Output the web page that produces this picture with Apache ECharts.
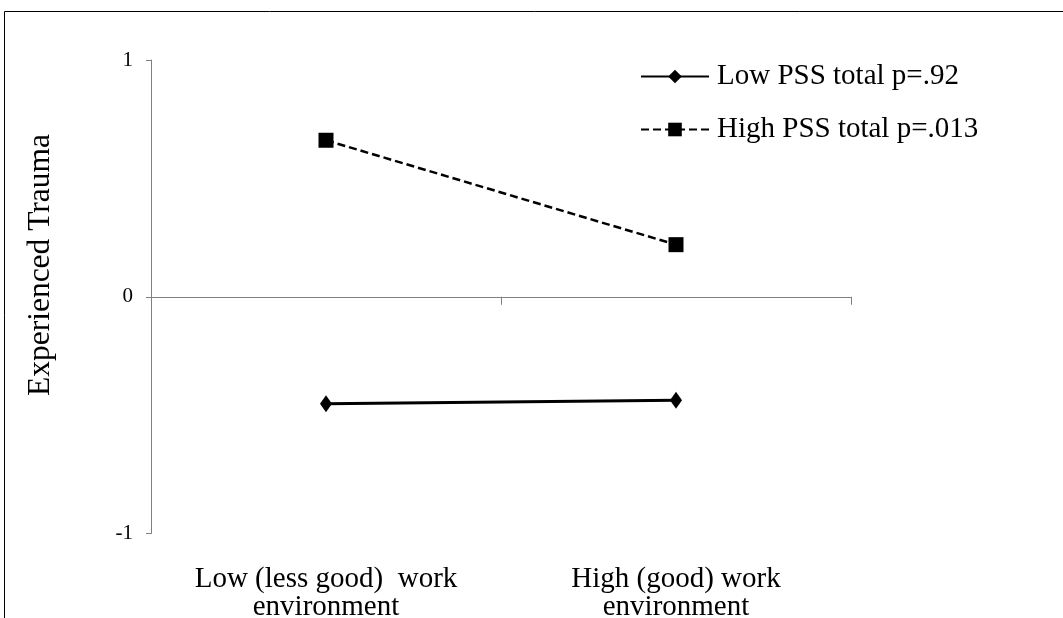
<!DOCTYPE html>
<html>
<head>
<meta charset="utf-8">
<script src="https://cdn.jsdelivr.net/npm/echarts@6/dist/echarts.min.js"></script>
<style>
html,body{margin:0;padding:0;background:#fff;}
#chart{width:1063px;height:618px;}
</style>
</head>
<body>
<div id="chart"></div>
<script>
var categories = ['Low (less good)  work\nenvironment', 'High (good) work\nenvironment'];
var seriesNames = ['Low PSS total p=.92', 'High PSS total p=.013'];
var lowPSS = [-0.452, -0.437];
var highPSS = [0.661, 0.22];
var yTicks = [-1, 0, 1];
var yTitle = 'Experienced Trauma';

var FONT = '"Liberation Serif", "Times New Roman", serif';
var chart = echarts.init(document.getElementById('chart'));
chart.setOption({
  animation: false,
  backgroundColor: '#fff',
  textStyle: { fontFamily: FONT, color: '#000' },
  grid: { left: 151, right: 212, top: 60, bottom: 84.5, containLabel: false, outerBoundsMode: 'none' },
  legend: {
    orient: 'vertical',
    left: 635,
    top: 56,
    itemWidth: 68,
    itemHeight: 17,
    itemGap: 22,
    textStyle: { fontFamily: FONT, fontSize: 29, color: '#000', lineHeight: 31, padding: [0,0,0,3] },
    data: seriesNames
  },
  xAxis: [
    {
      type: 'category',
      data: categories,
      position: 'bottom',
      axisLine: { show: false, onZero: false },
      axisTick: { show: false },
      axisLabel: { fontFamily: FONT, fontSize: 29, color: '#000', margin: 32, lineHeight: 28 }
    },
    {
      type: 'category',
      data: categories,
      position: 'bottom',
      axisLine: { show: true, onZero: true, lineStyle: { color: '#808080', width: 1 } },
      axisTick: { show: true, length: 8, lineStyle: { color: '#808080', width: 1 } },
      axisLabel: { show: false }
    }
  ],
  yAxis: {
    type: 'value',
    min: yTicks[0],
    max: yTicks[yTicks.length - 1],
    interval: 1,
    splitLine: { show: false },
    axisLine: { show: true, lineStyle: { color: '#808080', width: 1 } },
    axisTick: { show: true, length: 5, lineStyle: { color: '#808080', width: 1 } },
    axisLabel: { fontFamily: FONT, fontSize: 21, color: '#000', margin: 18 }
  },
  graphic: [
    {
      type: 'rect',
      silent: true,
      shape: { x: 4.5, y: 11.5, width: 1200, height: 800 },
      style: { fill: 'none', stroke: '#000', lineWidth: 1 }
    },
    {
      type: 'text',
      silent: true,
      x: 41,
      y: 265,
      rotation: Math.PI / 2,
      style: {
        text: yTitle,
        fontFamily: FONT,
        fontSize: 31.5,
        fill: '#000',
        align: 'center',
        verticalAlign: 'middle'
      }
    }
  ],
  series: [
    {
      name: seriesNames[0],
      type: 'line',
      xAxisIndex: 0,
      data: lowPSS,
      symbol: 'diamond',
      symbolSize: [12, 17],
      itemStyle: { color: '#000' },
      lineStyle: { color: '#000', width: 3, type: 'solid' }
    },
    {
      name: seriesNames[1],
      type: 'line',
      xAxisIndex: 0,
      data: highPSS,
      symbol: 'rect',
      symbolSize: 15,
      itemStyle: { color: '#000' },
      lineStyle: { color: '#000', width: 2.5, type: [8, 4] }
    }
  ]
});
</script>
</body>
</html>
